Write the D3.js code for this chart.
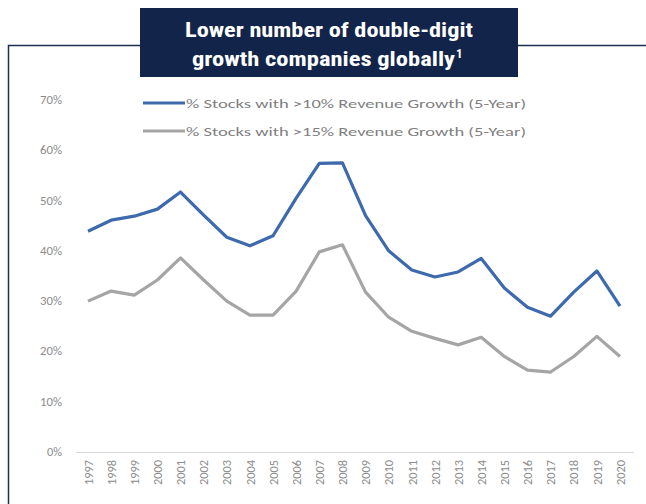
<!DOCTYPE html>
<meta charset="utf-8">
<script src="https://cdn.jsdelivr.net/npm/d3@7"></script>
<style>
  body { margin: 0; background: #fff; }
</style>
<div id="my_dataviz"></div>
<script>

// data
var years = ["1997","1998","1999","2000","2001","2002","2003","2004","2005","2006","2007","2008",
             "2009","2010","2011","2012","2013","2014","2015","2016","2017","2018","2019","2020"];
var growth10 = [43.9,46.1,46.9,48.3,51.7,47.1,42.7,41.0,43.0,50.5,57.4,57.5,
                47.0,40.0,36.2,34.8,35.8,38.5,32.6,28.8,27.0,31.8,36.0,29.0];
var growth15 = [30.0,32.0,31.2,34.2,38.6,34.2,30.0,27.2,27.2,32.0,39.8,41.2,
                31.8,26.8,24.0,22.6,21.3,22.8,19.0,16.3,15.9,19.0,23.0,19.0];
var yTicks = [0,10,20,30,40,50,60,70];
var seriesNames = ["% Stocks with >10% Revenue Growth (5-Year)",
                   "% Stocks with >15% Revenue Growth (5-Year)"];
var titleLines = ["Lower number of double-digit", "growth companies globally"];

var W = 646, H = 504;
var font = "Carlito, Calibri, 'Open Sans', sans-serif";
var svg = d3.select("#my_dataviz").append("svg")
  .attr("width", W).attr("height", H)
  .style("font-family", font);

// frame lines
svg.append("path")
  .attr("d", "M8.5," + H + "V45.5H" + W)
  .attr("fill", "none").attr("stroke", "#1d2f4f").attr("stroke-width", 1.5);

// scales
var x = d3.scalePoint().domain(years).range([88, 620]);
var y = d3.scaleLinear().domain([0, 70]).range([452, 100]);

// y labels (no axis line)
svg.append("g").selectAll("text")
  .data(yTicks).enter().append("text")
    .attr("x", 62).attr("y", d => y(d) + 4)
    .attr("text-anchor", "end")
    .attr("font-size", 12).attr("fill", "#8c8c8c")
    .attr("textLength", d => d === 0 ? 15 : 22).attr("lengthAdjust", "spacingAndGlyphs")
    .text(d => d + "%");

// x axis
var xAxis = svg.append("g")
  .attr("transform", "translate(0,452)")
  .call(d3.axisBottom(x).tickSize(0).tickPadding(6));
xAxis.select(".domain").attr("stroke", "#d9d9d9").attr("d", "M76,0.5H634");
xAxis.selectAll("text")
  .attr("transform", "rotate(-90)")
  .attr("text-anchor", "end")
  .attr("x", -8).attr("y", 0).attr("dy", "0.35em")
  .attr("font-size", 12).attr("fill", "#8c8c8c")
  .attr("textLength", 25).attr("lengthAdjust", "spacingAndGlyphs")
  .style("font-family", font);

// lines
var line = d3.line().x((d, i) => x(years[i])).y(d => y(d));
svg.append("path").datum(growth15)
  .attr("d", line).attr("fill", "none")
  .attr("stroke", "#a5a5a5").attr("stroke-width", 3.2).attr("stroke-linejoin", "round");
svg.append("path").datum(growth10)
  .attr("d", line).attr("fill", "none")
  .attr("stroke", "#3d6aad").attr("stroke-width", 3.2).attr("stroke-linejoin", "round");

// legend
var legColors = ["#3d6aad", "#a5a5a5"];
var leg = svg.append("g").selectAll("g")
  .data(seriesNames).enter().append("g")
  .attr("transform", (d, i) => "translate(143," + (103 + i * 28) + ")");
leg.append("line").attr("x1", 0).attr("x2", 42)
  .attr("stroke", (d, i) => legColors[i]).attr("stroke-width", 3);
leg.append("text").attr("x", 43).attr("y", 4.5)
  .attr("font-size", 13).attr("fill", "#7f7f7f")
  .attr("textLength", 340).attr("lengthAdjust", "spacingAndGlyphs")
  .text(d => d);

// title box
svg.append("rect")
  .attr("x", 140).attr("y", 8).attr("width", 378).attr("height", 69)
  .attr("fill", "#13244a");
var titleFont = "'Liberation Sans Narrow', 'Roboto Condensed', 'Liberation Sans', sans-serif";
svg.append("text")
  .attr("x", 185).attr("y", 37)
  .attr("fill", "#fff").attr("font-weight", "bold").attr("font-size", 21)
  .attr("textLength", 288).attr("lengthAdjust", "spacingAndGlyphs")
  .style("font-family", titleFont)
  .text(titleLines[0]);
svg.append("text")
  .attr("x", 192).attr("y", 66)
  .attr("fill", "#fff").attr("font-weight", "bold").attr("font-size", 21)
  .attr("textLength", 263).attr("lengthAdjust", "spacingAndGlyphs")
  .style("font-family", titleFont)
  .text(titleLines[1]);
svg.append("text")
  .attr("x", 456).attr("y", 58)
  .attr("fill", "#fff").attr("font-weight", "bold").attr("font-size", 13)
  .style("font-family", titleFont)
  .text("1");

</script>
